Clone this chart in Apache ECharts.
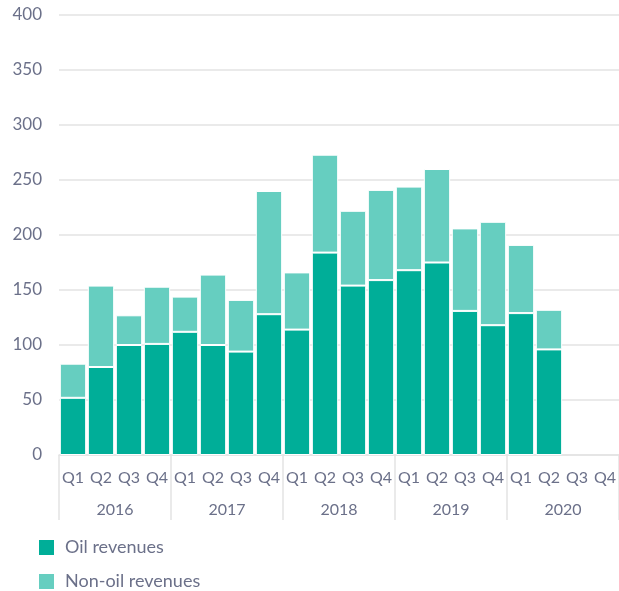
<!DOCTYPE html>
<html>
<head>
<meta charset="utf-8">
<script src="https://cdn.jsdelivr.net/npm/echarts@6/dist/echarts.min.js"></script>
<style>
  html,body{margin:0;padding:0;background:#fff;}
  #main{width:619px;height:591px;}
</style>
</head>
<body>
<div id="main"></div>
<script>
// quarters and years
var quarters = ['Q1','Q2','Q3','Q4','Q1','Q2','Q3','Q4','Q1','Q2','Q3','Q4','Q1','Q2','Q3','Q4','Q1','Q2','Q3','Q4'];
var years = ['2016','2017','2018','2019','2020'];
// values
var oil = [52, 80, 100, 101, 112, 100, 94, 128, 114, 184, 154, 159, 168, 175, 131, 118, 129, 96, null, null];
var nonOil = [31, 74, 27, 52, 32, 64, 47, 112, 52, 89, 68, 82, 76, 85, 75, 94, 62, 36, null, null];

var txt = '#6b7089';
var gridCol = '#e3e3e3';

var myChart = echarts.init(document.getElementById('main'));
var option = {
    animation: false,
    textStyle: {fontFamily: 'Lato'},
    grid: {left: 59, right: -2, top: 15, bottom: 136},
    legend: {
        orient: 'vertical',
        left: 37, top: 538,
        padding: 0,
        itemWidth: 17, itemHeight: 17, itemGap: 15,
        icon: 'rect',
        textStyle: {color: txt, fontSize: 18, fontFamily: 'Lato', padding: [0, 0, 0, 5]},
        data: ['Oil revenues', 'Non-oil revenues']
    },
    xAxis: [{
        type: 'category',
        data: quarters,
        axisLine: {lineStyle: {color: gridCol, width: 1.5}},
        axisTick: {show: false},
        axisLabel: {interval: 0, color: txt, fontSize: 16, margin: 15}
    }, {
        type: 'category',
        data: years,
        position: 'bottom',
        axisLine: {show: false},
        axisTick: {show: true, length: 65, lineStyle: {color: gridCol, width: 1.5}},
        axisLabel: {color: txt, fontSize: 16, margin: 47}
    }],
    yAxis: {
        type: 'value',
        min: 0, max: 400, interval: 50,
        axisLine: {show: false},
        axisTick: {show: false},
        axisLabel: {color: txt, fontSize: 17, margin: 17},
        splitLine: {lineStyle: {color: gridCol, width: 1.5}}
    },
    series: [{
        name: 'Oil revenues',
        type: 'bar',
        stack: 'rev',
        data: oil,
        barCategoryGap: '6%',
        itemStyle: {color: '#00ae98', borderColor: '#fff', borderWidth: 1}
    }, {
        name: 'Non-oil revenues',
        type: 'bar',
        stack: 'rev',
        data: nonOil,
        itemStyle: {color: '#66cec0', borderColor: '#fff', borderWidth: 1}
    }]
};
myChart.setOption(option);
</script>
</body>
</html>
